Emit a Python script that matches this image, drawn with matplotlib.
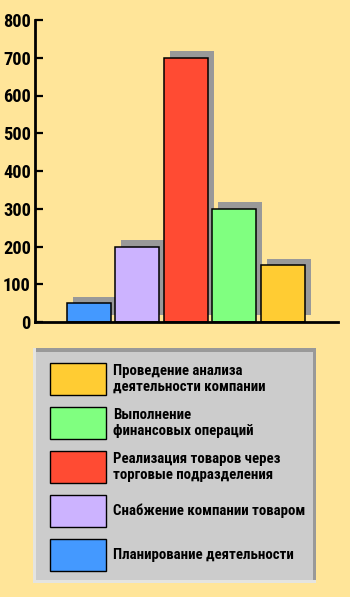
import matplotlib
matplotlib.use("Agg")
import matplotlib.pyplot as plt
import matplotlib.patheffects as pe
from matplotlib.patches import Rectangle
from matplotlib import font_manager

categories = ["Планирование деятельности",
              "Снабжение компании товаром",
              "Реализация товаров через\nторговые подразделения",
              "Выполнение\nфинансовых операций",
              "Проведение анализа\nдеятельности компании"]
values = [50, 200, 700, 300, 150]
colors = ["#4499FF", "#CCB3FF", "#FF4B33", "#80FF80", "#FFCC33"]
yticks = [0, 100, 200, 300, 400, 500, 600, 700, 800]

# pick a narrow font if one is installed
fonts = font_manager.fontManager.ttflist
names = {f.name for f in fonts}
fam, stretch = "Liberation Sans", "normal"
for cand in ["Liberation Sans Narrow", "DejaVu Sans Condensed", "Roboto Condensed",
             "Open Sans Condensed", "Noto Sans Condensed"]:
    if cand in names:
        fam = cand
        break
else:
    if any(f.name == "DejaVu Sans" and str(f.stretch).lower() in ("condensed", "semi-condensed")
           for f in fonts):
        fam, stretch = "DejaVu Sans", "condensed"
plt.rcParams['font.family'] = [fam, 'DejaVu Sans']
plt.rcParams['font.weight'] = 'bold'
plt.rcParams['font.stretch'] = stretch

BG = "#FFE599"
W, H = 350, 597
fig = plt.figure(figsize=(W / 100, H / 100), dpi=100, facecolor=BG)
renderer = fig.canvas.get_renderer()


def fit_size(text, max_w, start):
    size = start
    while size > 5:
        t = fig.text(0, 0, text, fontsize=size, fontweight='bold')
        w = t.get_window_extent(renderer).width
        t.remove()
        if w <= max_w:
            return size
        size -= 0.25
    return size


tick_fs = fit_size("800", 28, 14)
leg_fs = fit_size("Снабжение компании товаром", 194, 11.5)

# main axes (pixel layout)
x0, x1, ytop, ybot = 35, 338, 20, 322
ax = fig.add_axes([x0 / W, 1 - ybot / H, (x1 - x0) / W, (ybot - ytop) / H])
ax.set_facecolor(BG)
xs = list(range(len(values)))
bars = ax.bar(xs, values, width=0.907, color=colors, edgecolor="black",
              linewidth=1.1, zorder=2)
for b in bars:
    b.set_path_effects([pe.SimplePatchShadow(offset=(4.0, 4.7), shadow_rgbFace="#999999",
                                             alpha=1.0), pe.Normal()])
ax.set_xlim(-1.113, 5.134)
ax.set_ylim(0, 800)
ax.set_yticks(yticks)
ax.set_yticklabels([str(t) for t in yticks], fontsize=tick_fs, fontweight='bold')
ax.set_xticks([])
for s in ["top", "right"]:
    ax.spines[s].set_visible(False)
for s in ["left", "bottom"]:
    ax.spines[s].set_linewidth(2.0)
    ax.spines[s].set_zorder(3)
ax.tick_params(axis='y', direction='in', length=5.5, width=1.6, pad=3.0)

# legend box
lx0, lx1, ly0, ly1 = 33, 316, 348, 583
lax = fig.add_axes([lx0 / W, 1 - ly1 / H, (lx1 - lx0) / W, (ly1 - ly0) / H])
lw, lh = lx1 - lx0, ly1 - ly0
lax.set_xlim(0, lw)
lax.set_ylim(lh, 0)
lax.axis("off")
lax.add_patch(Rectangle((0, 0), lw, lh, facecolor="#E4E4E0", edgecolor="none"))
lax.add_patch(Rectangle((3, 0), lw - 3, lh - 3, facecolor="#999999", edgecolor="none"))
lax.add_patch(Rectangle((3, 4), lw - 6, lh - 7, facecolor="#CCCCCC", edgecolor="none"))

for i, (lab, col) in enumerate(zip(categories[::-1], colors[::-1])):
    top = 15 + 44 * i
    lax.add_patch(Rectangle((17, top), 56, 32, facecolor=col, edgecolor="black",
                            linewidth=1.0))
    lax.text(80, top + 16, lab, fontsize=leg_fs, fontweight='bold', va='center',
             ha='left', linespacing=1.1, color="black")

fig.savefig("out.png", dpi=100, facecolor=BG)
